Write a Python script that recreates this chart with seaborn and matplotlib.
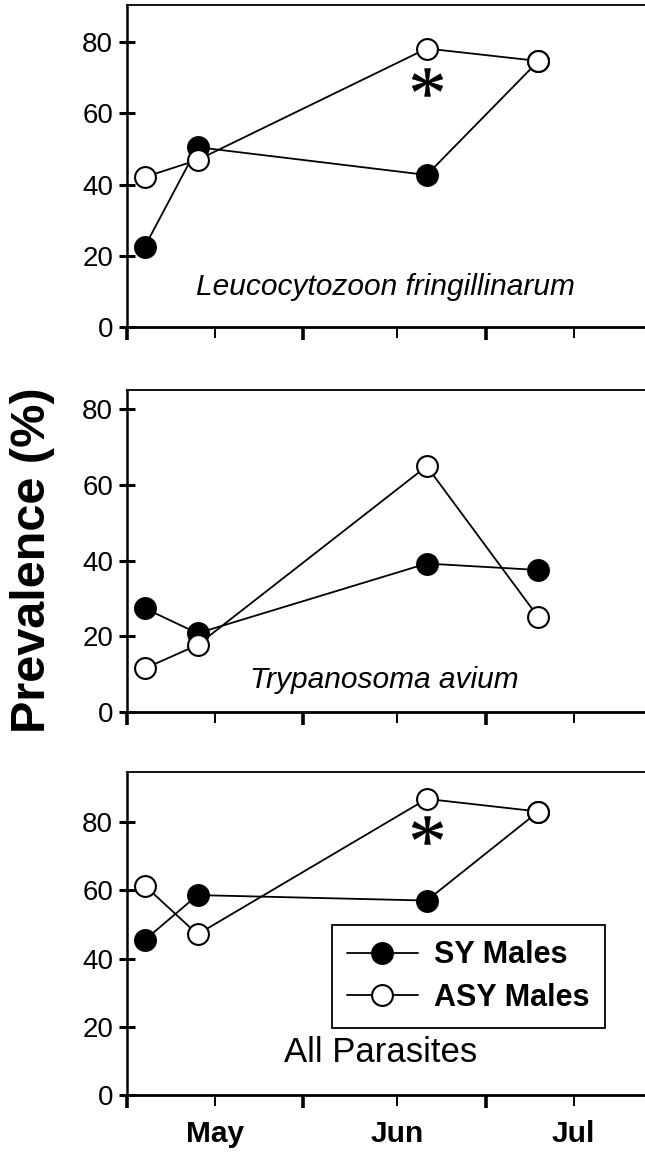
import pandas as pd
import matplotlib
matplotlib.use("Agg")
import matplotlib.pyplot as plt
import seaborn as sns

# sampling dates (same for every panel)
dates = pd.to_datetime(["2000-04-19", "2000-04-28", "2000-06-06", "2000-06-25"])

# prevalence (%) per panel
leuco_sy = [22.5, 50.5, 42.7, 74.7]
leuco_asy = [42.1, 46.9, 78.2, 74.7]
tryp_sy = [27.4, 20.8, 39.2, 37.5]
tryp_asy = [11.5, 17.7, 64.9, 25.0]
all_sy = [45.4, 58.6, 57.0, 83.1]
all_asy = [61.4, 47.1, 86.8, 83.1]

panel_titles = ["Leucocytozoon fringillinarum", "Trypanosoma avium", "All Parasites"]
title_italic = [True, True, False]
ymax = [90.4, 85.0, 94.7]
star_vals = [68.8, None, 77.7]

sns.set_style("ticks")
plt.rcParams["font.family"] = ["Liberation Sans", "DejaVu Sans"]
plt.rcParams["text.color"] = "black"
plt.rcParams["xtick.color"] = "black"
plt.rcParams["ytick.color"] = "black"
# asterisk marker with teardrop arms
plt.rcParams["mathtext.fontset"] = "custom"
plt.rcParams["mathtext.rm"] = "Liberation Serif"

fig = plt.figure(figsize=(6.45, 11.52), dpi=100)
boxes = [[0.1969, 0.7161, 0.811, 0.2795],
         [0.1969, 0.3819, 0.811, 0.2795],
         [0.1969, 0.0495, 0.811, 0.2804]]

series = [(leuco_sy, leuco_asy), (tryp_sy, tryp_asy), (all_sy, all_asy)]
title_pos = [(0.495, 0.124), (0.492, 0.099), (0.484, 0.133)]

major_x = pd.to_datetime(["2000-04-16", "2000-05-16", "2000-06-16"])
minor_x = pd.to_datetime(["2000-05-01", "2000-06-01", "2000-07-01"])

for i, (sy, asy) in enumerate(series):
    ax = fig.add_axes(boxes[i])
    sns.lineplot(x=dates, y=sy, ax=ax, color="black", lw=1.3, marker="o",
                 ms=15, mfc="black", mec="black", mew=1.5, label="SY Males")
    sns.lineplot(x=dates, y=asy, ax=ax, color="black", lw=1.3, marker="o",
                 ms=15, mfc="white", mec="black", mew=1.5, label="ASY Males")

    ax.set_xlim(pd.Timestamp("2000-04-16"), pd.Timestamp("2000-07-14"))
    ax.set_ylim(0, ymax[i])
    ax.set_yticks([0, 20, 40, 60, 80])
    ax.set_xticks(major_x)
    ax.set_xticklabels([])
    ax.set_xticks(minor_x, ["May", "Jun", "Jul"] if i == 2 else ["", "", ""], minor=True)
    ax.tick_params(axis="y", direction="inout", length=12, width=2.2,
                   labelsize=20, pad=4)
    ax.tick_params(axis="x", which="major", direction="out", length=9, width=2.6)
    ax.tick_params(axis="x", which="minor", direction="out", length=8, width=1.4,
                   labelsize=21.5, pad=10)
    for lab in ax.get_xticklabels(minor=True):
        lab.set_fontweight("bold")
    for sp in ax.spines.values():
        sp.set_visible(True)
        sp.set_color("black")
        sp.set_linewidth(1.3)
    ax.spines["left"].set_linewidth(1.8)
    ax.spines["bottom"].set_linewidth(2.0)
    ax.set_xlabel("")
    ax.set_ylabel("")

    ax.text(title_pos[i][0], title_pos[i][1], panel_titles[i], transform=ax.transAxes,
            ha="center", va="center", fontsize=25 if i == 2 else 21.5,
            style="italic" if title_italic[i] else "normal")

    if star_vals[i] is not None:
        ax.plot([dates[2]], [star_vals[i]], ls="none", marker=r"$\mathrm{*}$",
                ms=22, color="black", mew=0.4)

    if i == 2:
        leg = ax.legend(loc="upper right", bbox_to_anchor=(0.914, 0.526),
                        borderaxespad=0, frameon=True, fancybox=False,
                        handlelength=2.3, handletextpad=0.55, borderpad=0.5,
                        labelspacing=0.4, prop={"size": 22, "weight": "bold"})
        leg.get_frame().set_edgecolor("black")
        leg.get_frame().set_linewidth(1.3)
        leg.get_frame().set_alpha(1)
    else:
        ax.get_legend().remove()

fig.text(0.05, 0.514, "Prevalence (%)", rotation=90, ha="center", va="center",
         fontsize=35, fontweight="bold")

fig.savefig("out.png", dpi=100)
